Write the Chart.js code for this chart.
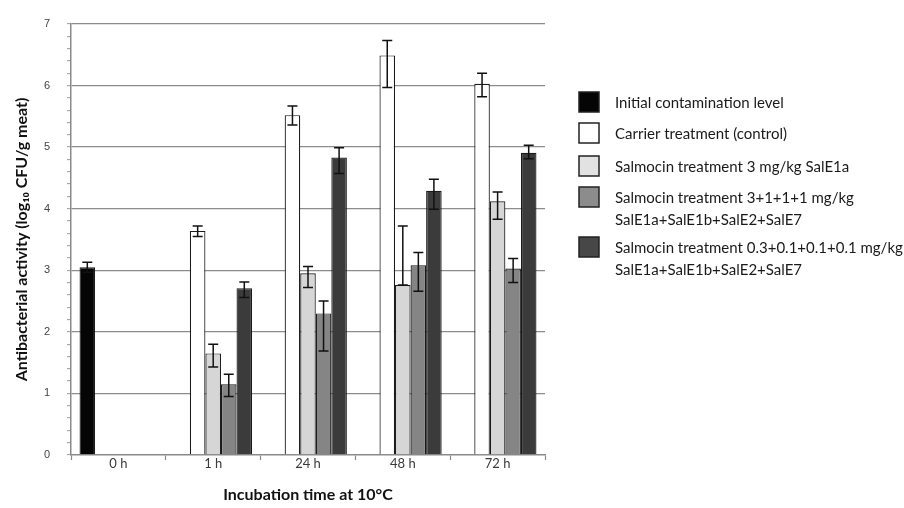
<!DOCTYPE html>
<html>
<head>
<meta charset="utf-8">
<script src="https://cdn.jsdelivr.net/npm/chart.js@4.4.1/dist/chart.umd.min.js"></script>
<style>
  html, body { margin: 0; padding: 0; background: #ffffff; }
  #wrap { width: 904px; height: 508px; position: relative; }
</style>
</head>
<body>
<div id="wrap"><canvas id="chart" width="904" height="508"></canvas></div>
<script>
// Incubation time points (x categories)
const timepoints = ['0 h', '1 h', '24 h', '48 h', '72 h'];

// Series names (legend lines)
const nameInitial = ['Initial contamination level'];
const nameCarrier = ['Carrier treatment (control)'];
const nameSingle = ['Salmocin treatment 3 mg/kg SalE1a'];
const nameMixHigh = ['Salmocin treatment 3+1+1+1 mg/kg', 'SalE1a+SalE1b+SalE2+SalE7'];
const nameMixLow = ['Salmocin treatment 0.3+0.1+0.1+0.1 mg/kg', 'SalE1a+SalE1b+SalE2+SalE7'];

// Mean log10 CFU/g meat per time point
const initialLevel = [3.05, null, null, null, null];
const carrierLevel = [null, 3.64, 5.52, 6.49, 6.03];
const singleLevel  = [null, 1.65, 2.95, 2.76, 4.12];
const mixHighLevel = [null, 1.15, 2.30, 3.08, 3.03];
const mixLowLevel  = [null, 2.71, 4.83, 4.29, 4.91];

// Error bar extents above / below the mean
const initialErrUp   = [0.08, null, null, null, null];
const initialErrDown = [0.08, null, null, null, null];
const carrierErrUp   = [null, 0.08, 0.15, 0.24, 0.17];
const carrierErrDown = [null, 0.09, 0.16, 0.52, 0.21];
const singleErrUp    = [null, 0.15, 0.11, 0.96, 0.15];
const singleErrDown  = [null, 0.22, 0.23, 0.00, 0.29];
const mixHighErrUp   = [null, 0.16, 0.20, 0.21, 0.16];
const mixHighErrDown = [null, 0.20, 0.61, 0.42, 0.23];
const mixLowErrUp    = [null, 0.10, 0.16, 0.19, 0.12];
const mixLowErrDown  = [null, 0.15, 0.26, 0.30, 0.10];

function series(label, data, up, down, fill, legendFill) {
  return {
    label: label.join(' '),
    lines: label,
    data: data,
    errUp: up,
    errDown: down,
    backgroundColor: fill,
    legendFill: legendFill,
    borderColor: '#1a1a1a',
    borderWidth: 1.2,
    borderSkipped: 'bottom'
  };
}

const datasets = [
  series(nameInitial, initialLevel, initialErrUp, initialErrDown, '#050505', '#050505'),
  series(nameCarrier, carrierLevel, carrierErrUp, carrierErrDown, '#ffffff', '#ffffff'),
  series(nameSingle, singleLevel, singleErrUp, singleErrDown, '#d6d6d6', '#e2e2e2'),
  series(nameMixHigh, mixHighLevel, mixHighErrUp, mixHighErrDown, '#858585', '#8c8c8c'),
  series(nameMixLow, mixLowLevel, mixLowErrUp, mixLowErrDown, '#3b3b3b', '#474747')
];

// Whiskers with caps drawn from each bar's value through the y scale
const errorBars = {
  id: 'errorBars',
  afterDatasetsDraw(chart) {
    const ctx = chart.ctx;
    const y = chart.scales.y;
    ctx.save();
    ctx.strokeStyle = '#111111';
    ctx.lineWidth = 1.5;
    chart.data.datasets.forEach((ds, di) => {
      const meta = chart.getDatasetMeta(di);
      meta.data.forEach((bar, i) => {
        const v = ds.data[i];
        if (v === null || v === undefined) return;
        const top = y.getPixelForValue(v + ds.errUp[i]);
        const bot = y.getPixelForValue(v - ds.errDown[i]);
        const half = 5;
        ctx.beginPath();
        ctx.moveTo(bar.x, top); ctx.lineTo(bar.x, bot);
        ctx.moveTo(bar.x - half, top); ctx.lineTo(bar.x + half, top);
        ctx.moveTo(bar.x - half, bot); ctx.lineTo(bar.x + half, bot);
        ctx.stroke();
      });
    });
    ctx.restore();
  }
};

// Legend to the right of the plot, multi-line entries
const sideLegend = {
  id: 'sideLegend',
  afterDraw(chart) {
    const ctx = chart.ctx;
    const area = chart.chartArea;
    const boxX = area.right + 34;
    const textX = area.right + 70;
    const centers = [102, 133, 166, 197, 247];
    ctx.save();
    ctx.font = '15px Lato';
    ctx.textBaseline = 'middle';
    ctx.textAlign = 'left';
    chart.data.datasets.forEach((ds, i) => {
      const cy = centers[i];
      ctx.fillStyle = ds.legendFill;
      ctx.fillRect(boxX, cy - 10, 20, 20);
      ctx.strokeStyle = '#222222';
      ctx.lineWidth = 1.5;
      ctx.strokeRect(boxX, cy - 10, 20, 20);
      ctx.fillStyle = '#1a1a1a';
      ds.lines.forEach((line, li) => {
        ctx.fillText(line, textX, cy + 1 + li * 22);
      });
    });
    ctx.restore();
  }
};

const isWhole = v => Math.abs(v - Math.round(v)) < 1e-6;

new Chart(document.getElementById('chart'), {
  type: 'bar',
  data: { labels: timepoints, datasets: datasets },
  options: {
    responsive: false,
    animation: false,
    devicePixelRatio: 1,
    layout: { padding: { left: 0, top: 24, right: 359, bottom: 0 } },
    datasets: { bar: { categoryPercentage: 0.82, barPercentage: 1.0 } },
    plugins: {
      legend: { display: false },
      tooltip: { enabled: false }
    },
    scales: {
      x: {
        afterFit(scale) { scale.height = 53; },
        grid: {
          offset: true,
          drawOnChartArea: false,
          drawTicks: true,
          tickLength: 5,
          tickColor: '#8a8a8a',
          tickWidth: 1.2
        },
        border: { color: '#8a8a8a', width: 1.5 },
        ticks: {
          padding: -4,
          color: '#3a3a3a',
          font: { family: 'Lato', size: 13 }
        },
        title: {
          display: true,
          text: 'Incubation time at 10°C',
          color: '#111111',
          font: { family: 'Lato', size: 16, weight: 'bold' },
          padding: { top: 0, bottom: 4 }
        }
      },
      y: {
        min: 0,
        max: 7,
        afterFit(scale) { scale.width = 71; },
        grid: {
          drawOnChartArea: true,
          drawTicks: true,
          tickLength: 4,
          color: ctx => (ctx.tick && isWhole(ctx.tick.value) && ctx.tick.value > 0) ? '#8c8c8c' : 'rgba(0,0,0,0)',
          lineWidth: 1.3,
          tickColor: '#9a9a9a',
          tickWidth: 1
        },
        border: { color: '#8a8a8a', width: 1.5 },
        ticks: {
          stepSize: 0.2,
          maxTicksLimit: 100,
          autoSkip: false,
          padding: 17,
          color: '#444444',
          font: { family: 'Liberation Sans', size: 11 },
          callback: v => isWhole(v) ? String(Math.round(v)) : ''
        },
        title: {
          display: true,
          text: 'Antibacterial activity (log\u2081\u2080 CFU/g meat)',
          color: '#111111',
          font: { family: 'Lato', size: 16, weight: 'bold' },
          padding: { top: 12, bottom: 0 }
        }
      }
    }
  },
  plugins: [errorBars, sideLegend]
});
</script>
</body>
</html>
